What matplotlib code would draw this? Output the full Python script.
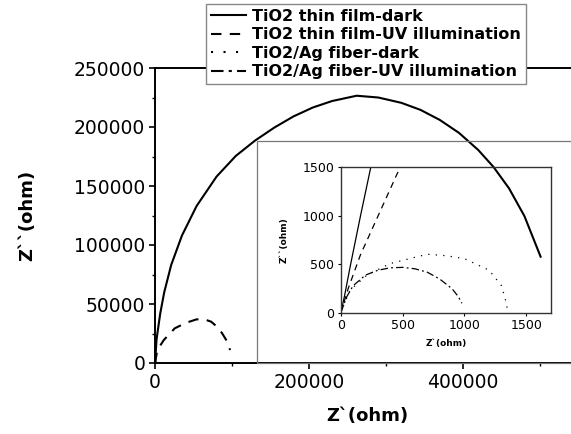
import matplotlib
matplotlib.use("Agg")
import matplotlib.pyplot as plt
from matplotlib.patches import Rectangle

plt.rcParams['font.family'] = ['DejaVu Sans']

# Данные (Z' , Z'' в омах)
dark_film_x = [0, 30, 80, 160, 243, 2000, 6800, 12000, 21000, 35000, 54000, 80000, 105000,
               130000, 155000, 180000, 205000, 230000, 262000, 290000, 320000, 345000,
               370000, 395000, 420000, 440000, 460000, 480000, 501000]
dark_film_y = [0, 170, 500, 1000, 1500, 20000, 42000, 60000, 83000, 108000, 133000, 158000,
               175500, 188500, 199500, 209000, 216500, 222000, 226500, 225000, 220500,
               214500, 206000, 195000, 180500, 166000, 148000, 124500, 90100]

uv_film_x = [0, 60, 160, 320, 480, 3000, 11500, 25700, 40000, 54000, 65000, 73000, 81000,
             87200, 93000, 97600]
uv_film_y = [0, 250, 600, 1050, 1500, 11000, 19500, 29400, 34000, 37000, 36800, 35000, 30500,
             25200, 19000, 11000]

dark_fiber_x = [0, 30, 75, 210, 400, 615, 700, 850, 1000, 1200, 1300, 1340, 1350]
dark_fiber_y = [0, 100, 234, 389, 509, 578, 605, 590, 560, 440, 280, 100, 10]

uv_fiber_x = [0, 50, 100, 200, 300, 400, 500, 600, 700, 800, 900, 950, 980]
uv_fiber_y = [0, 170, 280, 390, 440, 465, 470, 455, 420, 350, 250, 170, 100]

labels = ["TiO2 thin film-dark", "TiO2 thin film-UV illumination",
          "TiO2/Ag fiber-dark", "TiO2/Ag fiber-UV illumination"]

main_xticks = [0, 200000, 400000]
main_xlabels = ["0", "200000", "400000"]
main_yticks = [0, 50000, 100000, 150000, 200000, 250000]
main_ylabels = ["0", "50000", "100000", "150000", "200000", "250000"]
inset_ticks = [0, 500, 1000, 1500]
inset_labels = ["0", "500", "1000", "1500"]

styles = ['-', (0, (5, 4)), (0, (1, 5)), (0, (6, 2.5, 1.5, 2.5))]
series = [(dark_film_x, dark_film_y), (uv_film_x, uv_film_y),
          (dark_fiber_x, dark_fiber_y), (uv_fiber_x, uv_fiber_y)]

fig = plt.figure(figsize=(5.71, 4.34), dpi=100)
fig.set_facecolor('white')

### Основной график
ax = fig.add_axes([155/571, 71/434, 431/571, 295/434])
handles = []
for (x, y), ls, lab in zip(series, styles, labels):
    h, = ax.plot(x, y, linestyle=ls, color='black', lw=1.5, label=lab, zorder=5)
    handles.append(h)
ax.set_xlim(0, 560000)
ax.set_ylim(0, 250000)
ax.set_xticks(main_xticks)
ax.set_xticklabels(main_xlabels)
ax.set_xticks([100000, 300000, 500000], minor=True)
ax.set_yticks(main_yticks)
ax.set_yticklabels(main_ylabels)
ax.set_yticks(range(25000, 250000, 50000), minor=True)
ax.tick_params(which='major', direction='out', length=4, width=1.2, labelsize=13.5, pad=3)
ax.tick_params(which='minor', direction='out', length=2.5, width=1.0)
ax.spines['right'].set_visible(False)
for s in ['left', 'bottom', 'top']:
    ax.spines[s].set_linewidth(1.4)
ax.set_xlabel("Z`(ohm)", fontsize=13, fontweight='bold')
ax.set_ylabel("Z``(ohm)", fontsize=13, fontweight='bold')
ax.xaxis.set_label_coords(0.492, -0.15)
ax.yaxis.set_label_coords(-0.275, 0.5)

# Рамка вставки
fig.patches.append(Rectangle((257/571, 71/434), 0.6, 222/434, transform=fig.transFigure,
                             fill=False, edgecolor='#777777', lw=0.9))

### Вставка
axi = fig.add_axes([340.7/571, 121/434, 210.3/571, 145.7/434])
axi.set_facecolor('none')
for (x, y), ls in zip(series, styles):
    axi.plot(x, y, linestyle=ls, color='black', lw=0.9)
axi.set_xlim(0, 1700)
axi.set_ylim(0, 1500)
axi.set_xticks(inset_ticks)
axi.set_xticklabels(inset_labels)
axi.set_yticks(inset_ticks)
axi.set_yticklabels(inset_labels)
axi.tick_params(direction='out', length=2.5, width=0.8, labelsize=9, pad=2)
for s in axi.spines.values():
    s.set_linewidth(1.0)
    s.set_color('#333333')
axi.set_xlabel("Z`(ohm)", fontsize=6.5, fontweight='bold', labelpad=5)
axi.set_ylabel("Z``(ohm)", fontsize=6.5, fontweight='bold', labelpad=10)

### Легенда
leg = fig.legend(handles, labels, loc='upper left', bbox_to_anchor=(206/571, 1 - 4/434),
                 frameon=True, fancybox=False, edgecolor='#888888', framealpha=1,
                 borderaxespad=0, prop={'weight': 'bold', 'size': 11.5},
                 handlelength=2.2, labelspacing=0.22, handletextpad=0.4, borderpad=0.3)
leg.get_frame().set_linewidth(1.0)

fig.savefig('out.png', dpi=100)
